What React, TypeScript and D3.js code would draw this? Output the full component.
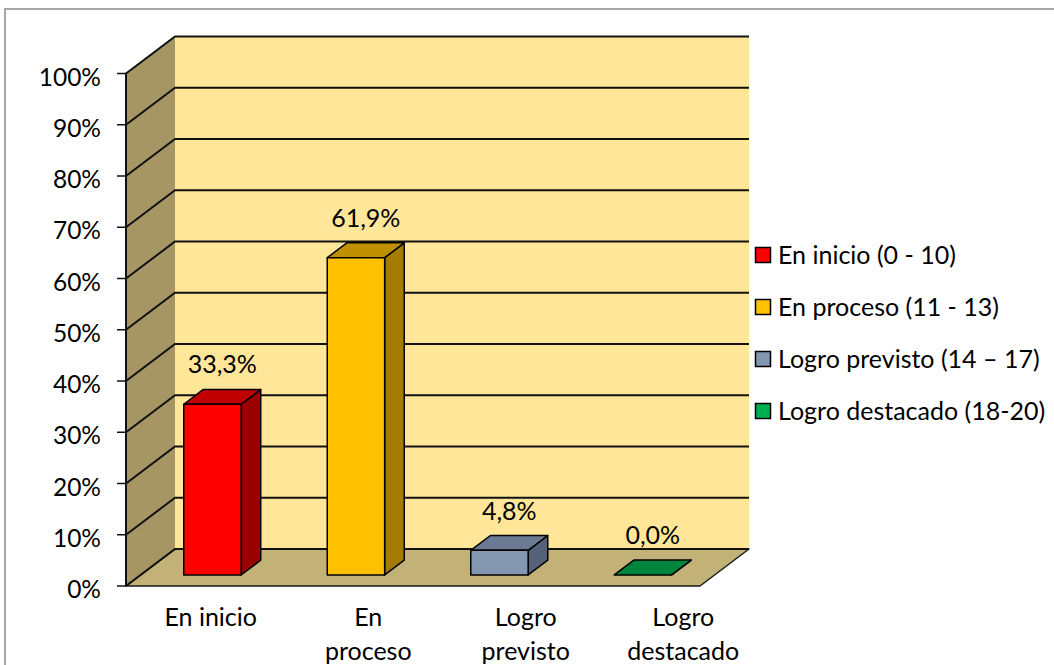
import React, { useEffect, useRef } from 'react';
import * as d3 from 'd3';

const categories = ['En inicio', 'En proceso', 'Logro previsto', 'Logro destacado'];
const categoryLines = [['En inicio'], ['En', 'proceso'], ['Logro', 'previsto'], ['Logro', 'destacado']];
const values = [0.333, 0.619, 0.048, 0.0];
const valueLabels = ['33,3%', '61,9%', '4,8%', '0,0%'];
const legendLabels = ['En inicio (0 - 10)', 'En proceso (11 - 13)', 'Logro previsto (14 – 17)', 'Logro destacado (18-20)'];
const yTicks = [0, 0.1, 0.2, 0.3, 0.4, 0.5, 0.6, 0.7, 0.8, 0.9, 1];

const frontColors = ['#FF0000', '#FFC000', '#8497B0', '#00B050'];
const sideColors = ['#9B0000', '#A57C00', '#56627A', '#006B30'];
const topColors = ['#C00000', '#BF9000', '#6B7A92', '#00853C'];

const W = 1054;
const H = 665;
const FONT = 'Lato, "Open Sans", sans-serif';
const FS = '25px';

const App: React.FC = () => {
  const svgRef = useRef<SVGSVGElement>(null);

  useEffect(() => {
    if (!svgRef.current) return;
    const svg = d3.select(svgRef.current);
    svg.selectAll('*').remove();

    // plot frame (front plane) and depth offset of the box
    const x0 = 126;
    const x1 = 700;
    const DX = 49;
    const DY = -37;
    const y = d3.scaleLinear().domain([0, 1]).range([586, 73.5]);
    const x = d3.scaleBand<string>().domain(categories).range([x0, x1]).paddingInner(0.6).paddingOuter(0.3);
    const labelX = d3.scaleBand<string>().domain(categories).range([132, 762]);
    const d0 = 0.3; // bar front depth
    const d1 = 0.7; // bar back depth

    const poly = (pts: [number, number][]) => 'M' + pts.map(p => p.join(',')).join('L') + 'Z';

    // outer border
    svg.append('rect')
      .attr('x', 5).attr('y', 9).attr('width', W + 10).attr('height', H)
      .attr('fill', 'white').attr('stroke', '#a6a6a6').attr('stroke-width', 2);

    // back wall
    svg.append('path')
      .attr('d', poly([[x0 + DX, y(1) + DY], [x1 + DX, y(1) + DY], [x1 + DX, y(0) + DY], [x0 + DX, y(0) + DY]]))
      .attr('fill', '#FFE699');
    // left wall
    svg.append('path')
      .attr('d', poly([[x0, y(1)], [x0 + DX, y(1) + DY], [x0 + DX, y(0) + DY], [x0, y(0)]]))
      .attr('fill', '#A69664');
    // floor
    svg.append('path')
      .attr('d', poly([[x0, y(0)], [x0 + DX, y(0) + DY], [x1 + DX, y(0) + DY], [x1, y(0)]]))
      .attr('fill', '#C2B278')
      .attr('stroke', '#1a1a1a')
      .attr('stroke-width', 1.5)
      .attr('stroke-linejoin', 'round');

    // gridlines
    const grid = svg.append('g').attr('stroke', '#111').attr('stroke-width', 2).attr('fill', 'none');
    yTicks.forEach(t => {
      grid.append('path')
        .attr('d', `M${x0},${y(t)}L${x0 + DX},${y(t) + DY}L${x1 + DX},${y(t) + DY}`);
    });

    // y axis
    svg.append('line')
      .attr('x1', x0).attr('x2', x0).attr('y1', y(0)).attr('y2', y(1))
      .attr('stroke', '#111').attr('stroke-width', 2);
    const ax = svg.append('g');
    yTicks.forEach(t => {
      ax.append('line')
        .attr('x1', x0 - 9).attr('x2', x0).attr('y1', y(t)).attr('y2', y(t))
        .attr('stroke', '#111').attr('stroke-width', 1.5);
      ax.append('text')
        .attr('x', 101).attr('y', y(t) + 12)
        .attr('text-anchor', 'end')
        .style('font-family', FONT).style('font-size', '24.5px').style('fill', '#000')
        .text(d3.format('.0%')(t));
    });

    // bars
    const bars = svg.append('g').attr('stroke', '#000').attr('stroke-width', 1.5).attr('stroke-linejoin', 'round');
    categories.forEach((c, i) => {
      const bx = x(c)!;
      const bw = x.bandwidth();
      const fx = bx + d0 * DX;
      const fy0 = y(0) + d0 * DY;
      const fy1 = y(values[i]) + d0 * DY;
      const ox = (d1 - d0) * DX;
      const oy = (d1 - d0) * DY;

      bars.append('path')
        .attr('d', poly([[fx + bw, fy1], [fx + bw + ox, fy1 + oy], [fx + bw + ox, fy0 + oy], [fx + bw, fy0]]))
        .attr('fill', sideColors[i]);
      bars.append('path')
        .attr('d', poly([[fx, fy1], [fx + ox, fy1 + oy], [fx + bw + ox, fy1 + oy], [fx + bw, fy1]]))
        .attr('fill', topColors[i]);
      if (fy0 - fy1 > 0.5) {
        bars.append('rect')
          .attr('x', fx).attr('y', fy1).attr('width', bw).attr('height', fy0 - fy1)
          .attr('fill', frontColors[i]);
      }

      // value label
      svg.append('text')
        .attr('x', fx + bw / 2 + ox / 2)
        .attr('y', fy1 + oy - 16)
        .attr('text-anchor', 'middle')
        .style('font-family', FONT).style('font-size', FS).style('fill', '#000')
        .text(valueLabels[i]);

      // category label
      const t = svg.append('text')
        .attr('text-anchor', 'middle')
        .style('font-family', FONT).style('font-size', FS).style('fill', '#000');
      categoryLines[i].forEach((line, k) => {
        t.append('tspan')
          .attr('x', labelX(c)! + labelX.bandwidth() / 2)
          .attr('y', 626 + k * 34)
          .text(line);
      });
    });

    // legend
    const lg = svg.append('g');
    legendLabels.forEach((l, i) => {
      const cy = 255 + i * 52;
      lg.append('rect')
        .attr('x', 755.5).attr('y', cy - 7.5).attr('width', 15).attr('height', 15)
        .attr('fill', frontColors[i]).attr('stroke', '#000').attr('stroke-width', 1.5);
      lg.append('text')
        .attr('x', 778).attr('y', cy + 8.5)
        .style('font-family', FONT).style('font-size', FS).style('fill', '#000')
        .text(l);
    });
  }, []);

  return (
    <svg
      ref={svgRef}
      width={W}
      height={H}
      style={{ position: 'absolute', left: 0, top: 0, background: 'white' }}
    ></svg>
  );
};

export default App;
